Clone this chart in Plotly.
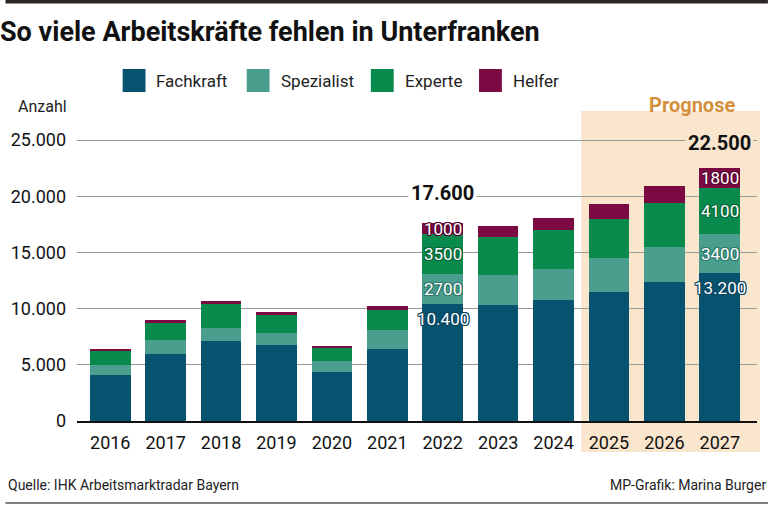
import plotly.graph_objects as go

years = ["2016", "2017", "2018", "2019", "2020", "2021", "2022", "2023", "2024", "2025", "2026", "2027"]
series_names = ["Fachkraft", "Spezialist", "Experte", "Helfer"]
fachkraft = [4100, 6000, 7150, 6750, 4400, 6400, 10400, 10300, 10750, 11500, 12400, 13200]
spezialist = [850, 1200, 1150, 1120, 980, 1720, 2700, 2650, 2800, 3000, 3100, 3400]
experte = [1250, 1550, 2100, 1600, 1130, 1780, 3500, 3400, 3400, 3500, 3900, 4100]
helfer = [200, 270, 300, 210, 180, 330, 1000, 1000, 1150, 1350, 1550, 1800]
labeled_years = ["2022", "2027"]
forecast_years = ["2025", "2026", "2027"]
y_ticks = [0, 5000, 10000, 15000, 20000, 25000]

series = [fachkraft, spezialist, experte, helfer]
colors = ["#06536f", "#4a9e8e", "#088a4d", "#7b0a42"]
outline = ["#0a4660", "#2f7a6c", "#05683a", "#5a0530"]
shade = "#f9e6cd"
FONT = "Roboto"

W, H = 768, 505
ML, MR, MT, MB = 72, 11, 111, 84
PW, PH = W - ML - MR, H - MT - MB
Y_TOP = 25000 * PH / 281.0

def px_x(px):
    return (px - ML) / PW

def px_y(py):
    return (H - MB - py) / PH

fig = go.Figure()
for name, vals, c in zip(series_names, series, colors):
    fig.add_trace(go.Bar(x=years, y=vals, name=name, marker=dict(color=c, line=dict(width=0)),
                         showlegend=False, hoverinfo="skip"))

x_range = [-0.6, 11.671]
span = x_range[1] - x_range[0]
fi0 = years.index(forecast_years[0]) - 0.5
shapes = []
# forecast shading
shapes.append(dict(type="rect", xref="paper", yref="paper",
                   x0=(fi0 - x_range[0]) / span, x1=px_x(760),
                   y0=px_y(452), y1=px_y(111), fillcolor=shade, line=dict(width=0), layer="below"))
# top bar and bottom line
shapes.append(dict(type="rect", xref="paper", yref="paper", x0=px_x(0), x1=px_x(768),
                   y0=px_y(3.5), y1=px_y(0), fillcolor="#2b2622", line=dict(width=0)))
shapes.append(dict(type="line", xref="paper", yref="paper", x0=px_x(0), x1=px_x(768),
                   y0=px_y(503), y1=px_y(503), line=dict(color="#555555", width=1.5)))

annotations = []
# legend
leg_sq = [118, 243, 368, 477]
for name, c, sx in zip(series_names, colors, leg_sq):
    shapes.append(dict(type="rect", xref="paper", yref="paper", x0=px_x(sx), x1=px_x(sx + 23),
                       y0=px_y(92), y1=px_y(69), fillcolor=c, line=dict(width=0)))
    annotations.append(dict(xref="paper", yref="paper", x=px_x(sx + 32), y=px_y(81), text=name,
                            showarrow=False, xanchor="left", yanchor="middle",
                            font=dict(family=FONT, size=17, color="#222222")))

def fmt(v):
    return f"{v:,}".replace(",", ".")

def shadow(col):
    return (f"-1px -1px 0 {col}, 1px -1px 0 {col}, -1px 1px 0 {col}, 1px 1px 0 {col}, "
            f"0 1px 0 {col}, 0 -1px 0 {col}, 1px 0 0 {col}, -1px 0 0 {col}")

for yr in labeled_years:
    i = years.index(yr)
    base = 0
    for k, vals in enumerate(series):
        v = vals[i]
        if k == 0:
            txt, yy, ys = fmt(v), base + v, -15
        else:
            txt, yy, ys = str(v), base + v / 2, 0
        annotations.append(dict(x=i, y=yy, yshift=ys, text=txt, showarrow=False,
                                xanchor="center", yanchor="middle",
                                font=dict(family=FONT, size=17, color="white", shadow=shadow(outline[k]))))
        base += v
    total = base
    annotations.append(dict(x=i, y=total, yshift=30 if yr == "2022" else 25, text=f"<b>{fmt(total)}</b>",
                            showarrow=False, xanchor="center", yanchor="middle",
                            bgcolor="white" if yr not in forecast_years else shade, borderpad=2,
                            font=dict(family=FONT, size=20, color="#111111")))

annotations.append(dict(xref="paper", yref="paper", x=(len(years) - 1.5 - x_range[0]) / span, y=px_y(105),
                        text="<b>Prognose</b>", showarrow=False, xanchor="center", yanchor="middle",
                        font=dict(family=FONT, size=20, color="#d4903a")))
annotations.append(dict(xref="paper", yref="paper", x=px_x(11), y=px_y(106), text="Anzahl",
                        showarrow=False, xanchor="left", yanchor="middle",
                        font=dict(family=FONT, size=16, color="#222222")))
annotations.append(dict(xref="paper", yref="paper", x=px_x(0), y=px_y(485),
                        text="Quelle: IHK Arbeitsmarktradar Bayern", showarrow=False,
                        xanchor="left", yanchor="middle", font=dict(family=FONT, size=14, color="#222222")))
annotations.append(dict(xref="paper", yref="paper", x=px_x(768), y=px_y(485),
                        text="MP-Grafik: Marina Burger", showarrow=False,
                        xanchor="right", yanchor="middle", font=dict(family=FONT, size=14, color="#222222")))

fig.update_layout(
    width=W, height=H, margin=dict(l=ML, r=MR, t=MT, b=MB, pad=0),
    barmode="stack", bargap=0.266, separators=",.",
    paper_bgcolor="white", plot_bgcolor="rgba(0,0,0,0)",
    title=dict(text="<b>So viele Arbeitskräfte fehlen in Unterfranken</b>", x=0, xref="container",
               xanchor="left", y=1 - 32 / H, yref="container", yanchor="middle",
               font=dict(family=FONT, size=27, color="#111111")),
    shapes=shapes, annotations=annotations,
    xaxis=dict(type="category", range=x_range, showgrid=False, showline=True, linecolor="#111111",
               linewidth=2, ticks="", tickfont=dict(family=FONT, size=18, color="#111111"),
               ticklabelstandoff=4, fixedrange=True),
    yaxis=dict(range=[0, Y_TOP], tickvals=y_ticks, tickformat=",d", showgrid=True, gridcolor="#9a9a9a",
               gridwidth=1.3, zeroline=False, ticks="", ticklabelstandoff=10,
               tickfont=dict(family=FONT, size=18, color="#111111"), fixedrange=True),
)

fig.write_html("out.html", config={"displayModeBar": False},
               post_script="document.body.style.margin='0';document.body.style.overflow='hidden';")
